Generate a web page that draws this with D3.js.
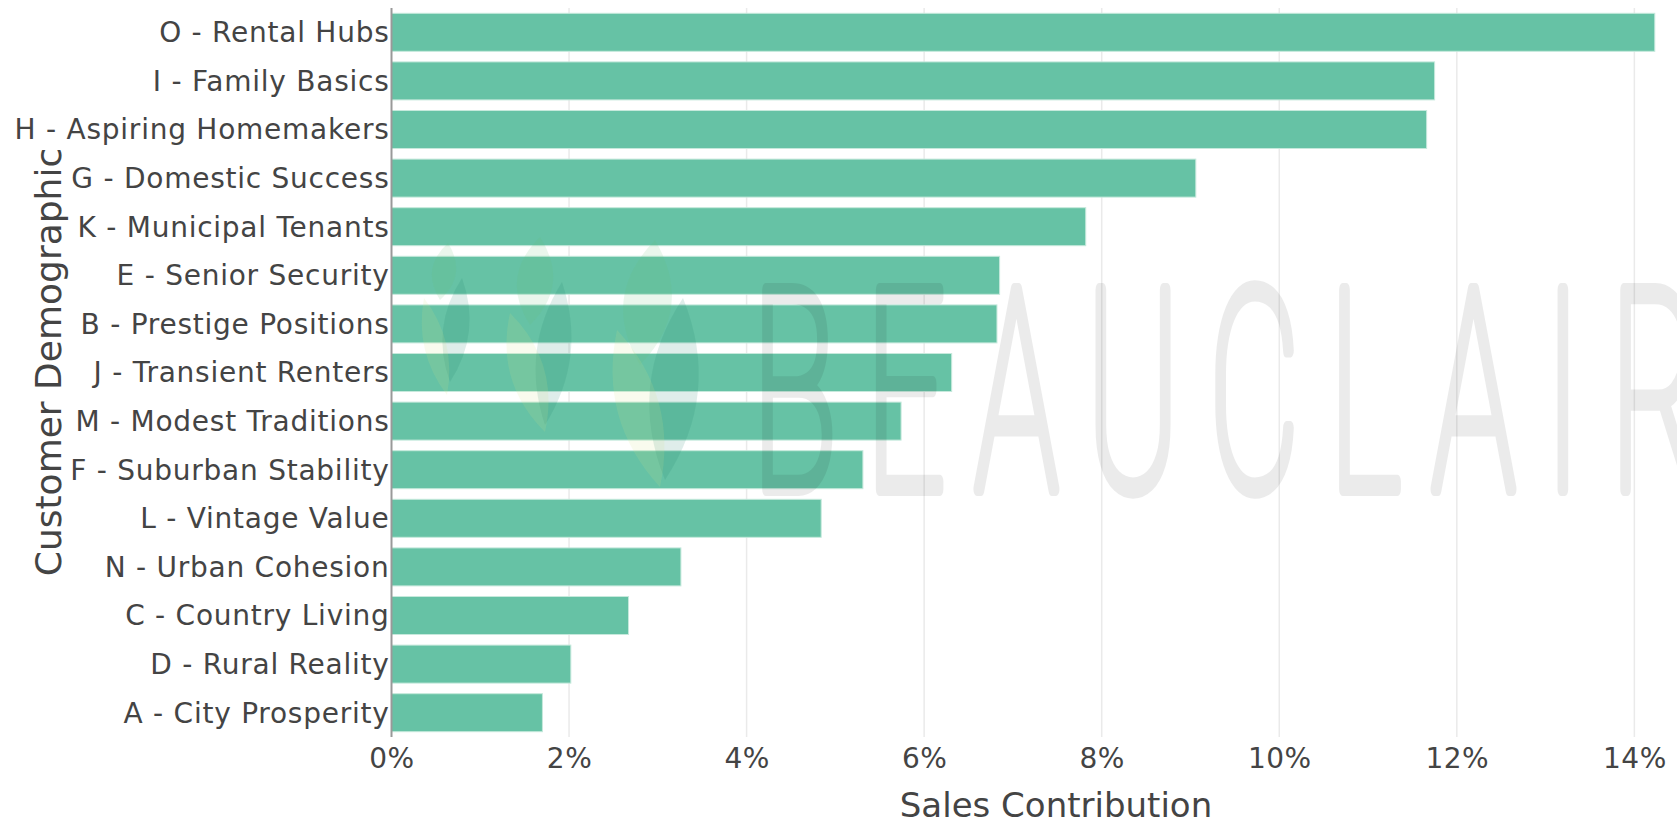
<!DOCTYPE html>
<html>
<head>
<meta charset="utf-8">
<script src="https://cdn.jsdelivr.net/npm/d3@7"></script>
<style>
  body { margin: 0; background: #fff; }
  svg { display: block; }
  .label { font-family: "DejaVu Sans", Verdana, sans-serif; fill: #444; }
</style>
</head>
<body>
<svg id="chart" width="1677" height="824"></svg>
<script>
// customer demographic groups, top to bottom
var categories = [
    "O - Rental Hubs", "I - Family Basics", "H - Aspiring Homemakers", "G - Domestic Success",
    "K - Municipal Tenants", "E - Senior Security", "B - Prestige Positions", "J - Transient Renters",
    "M - Modest Traditions", "F - Suburban Stability", "L - Vintage Value", "N - Urban Cohesion",
    "C - Country Living", "D - Rural Reality", "A - City Prosperity"
];
// sales contribution in percent
var contribution = [14.23, 11.75, 11.66, 9.06, 7.82, 6.85, 6.82, 6.31, 5.74, 5.31, 4.84, 3.26, 2.67, 2.02, 1.70];
var xTicks = [0, 2, 4, 6, 8, 10, 12, 14];
var xTitle = "Sales Contribution";
var yTitle = "Customer Demographic";
var watermark = "BEAUCLAIR";

var svg = d3.select("#chart");
var margin = { left: 391.5, right: 1661, top: 8, bottom: 737 };

var xScale = d3.scaleLinear()
    .domain([0, 14.3])
    .range([margin.left, margin.right]);

var yScale = d3.scaleBand()
    .domain(categories)
    .range([margin.top, margin.bottom])
    .paddingInner(0.218)
    .paddingOuter(0.109);

// gridlines
svg.append("g")
    .selectAll("line")
    .data(xTicks.filter(function (d) { return d > 0; }))
    .enter()
    .append("line")
    .attr("x1", function (d) { return xScale(d); })
    .attr("x2", function (d) { return xScale(d); })
    .attr("y1", margin.top)
    .attr("y2", margin.bottom)
    .attr("stroke", "#eaeaea")
    .attr("stroke-width", 1.5);

// bars
svg.append("g")
    .selectAll("rect")
    .data(categories)
    .enter()
    .append("rect")
    .attr("x", xScale(0))
    .attr("y", function (d) { return yScale(d); })
    .attr("width", function (d, i) { return xScale(contribution[i]) - xScale(0); })
    .attr("height", yScale.bandwidth())
    .attr("fill", "#66c2a5")
    .attr("stroke", "#c6e9dc")
    .attr("stroke-width", 1);

// zero line
svg.append("line")
    .attr("x1", xScale(0)).attr("x2", xScale(0))
    .attr("y1", margin.top).attr("y2", margin.bottom)
    .attr("stroke", "#999")
    .attr("stroke-width", 2);

// x axis
var xAxis = d3.axisBottom(xScale)
    .tickValues(xTicks)
    .tickSize(0)
    .tickPadding(0)
    .tickFormat(function (d) { return d + "%"; });

var xGroup = svg.append("g")
    .attr("transform", "translate(0,768)")
    .call(xAxis);
xGroup.select(".domain").remove();
xGroup.selectAll("text")
    .attr("class", "label")
    .attr("dy", 0)
    .style("font-size", "28px")
    .style("letter-spacing", "0.5px");

// y axis
var yAxis = d3.axisLeft(yScale).tickSize(0).tickPadding(0);
var yGroup = svg.append("g")
    .attr("transform", "translate(389.5,0)")
    .call(yAxis);
yGroup.select(".domain").remove();
yGroup.selectAll("text")
    .attr("class", "label")
    .attr("dy", "0.35em")
    .style("font-size", "28px")
    .style("letter-spacing", "0.75px");

// axis titles
svg.append("text")
    .attr("class", "label")
    .attr("x", 1056)
    .attr("y", 817)
    .attr("text-anchor", "middle")
    .style("font-size", "34px")
    .text(xTitle);

svg.append("text")
    .attr("class", "label")
    .attr("transform", "translate(61,362) rotate(-90)")
    .attr("text-anchor", "middle")
    .style("font-size", "36px")
    .text(yTitle);

// watermark logo, three leaf clusters drawn on top of the plot
var leaves = [
    [448, 243, 440, 300, 24, "#6cc07a"], [462, 278, 450, 382, 26, "#1f7f6c"], [424, 298, 447, 395, 22, "#d8e48a"],
    [540, 237, 530, 325, 36, "#6cc07a"], [562, 282, 545, 425, 34, "#1f7f6c"], [510, 313, 545, 432, 34, "#d8e48a"],
    [655, 240, 640, 365, 48, "#6cc07a"], [683, 298, 665, 480, 48, "#1f7f6c"], [617, 330, 660, 487, 42, "#d8e48a"]
];
function leafPath(d) {
    var dx = d[2] - d[0], dy = d[3] - d[1];
    var len = Math.sqrt(dx * dx + dy * dy);
    var nx = -dy / len * d[4], ny = dx / len * d[4];
    var mx = (d[0] + d[2]) / 2, my = (d[1] + d[3]) / 2;
    return "M" + d[0] + "," + d[1] +
        "Q" + (mx + nx) + "," + (my + ny) + " " + d[2] + "," + d[3] +
        "Q" + (mx - nx) + "," + (my - ny) + " " + d[0] + "," + d[1] + "Z";
}
svg.append("g")
    .selectAll("path")
    .data(leaves)
    .enter()
    .append("path")
    .attr("d", leafPath)
    .attr("fill", function (d) { return d[5]; })
    .attr("opacity", 0.14);

var wmScale = 0.5;
svg.append("g")
    .attr("opacity", 0.075)
    .append("text")
    .attr("transform", "translate(752,489) scale(" + wmScale + ",1)")
    .attr("textLength", 950 / wmScale)
    .attr("lengthAdjust", "spacing")
    .style("font-family", "Roboto, 'DejaVu Sans', sans-serif")
    .style("font-weight", 100)
    .style("font-size", "280px")
    .attr("fill", "#000")
    .attr("stroke", "#000")
    .attr("stroke-width", 11)
    .attr("stroke-linejoin", "round")
    .attr("vector-effect", "non-scaling-stroke")
    .text(watermark);
</script>
</body>
</html>
